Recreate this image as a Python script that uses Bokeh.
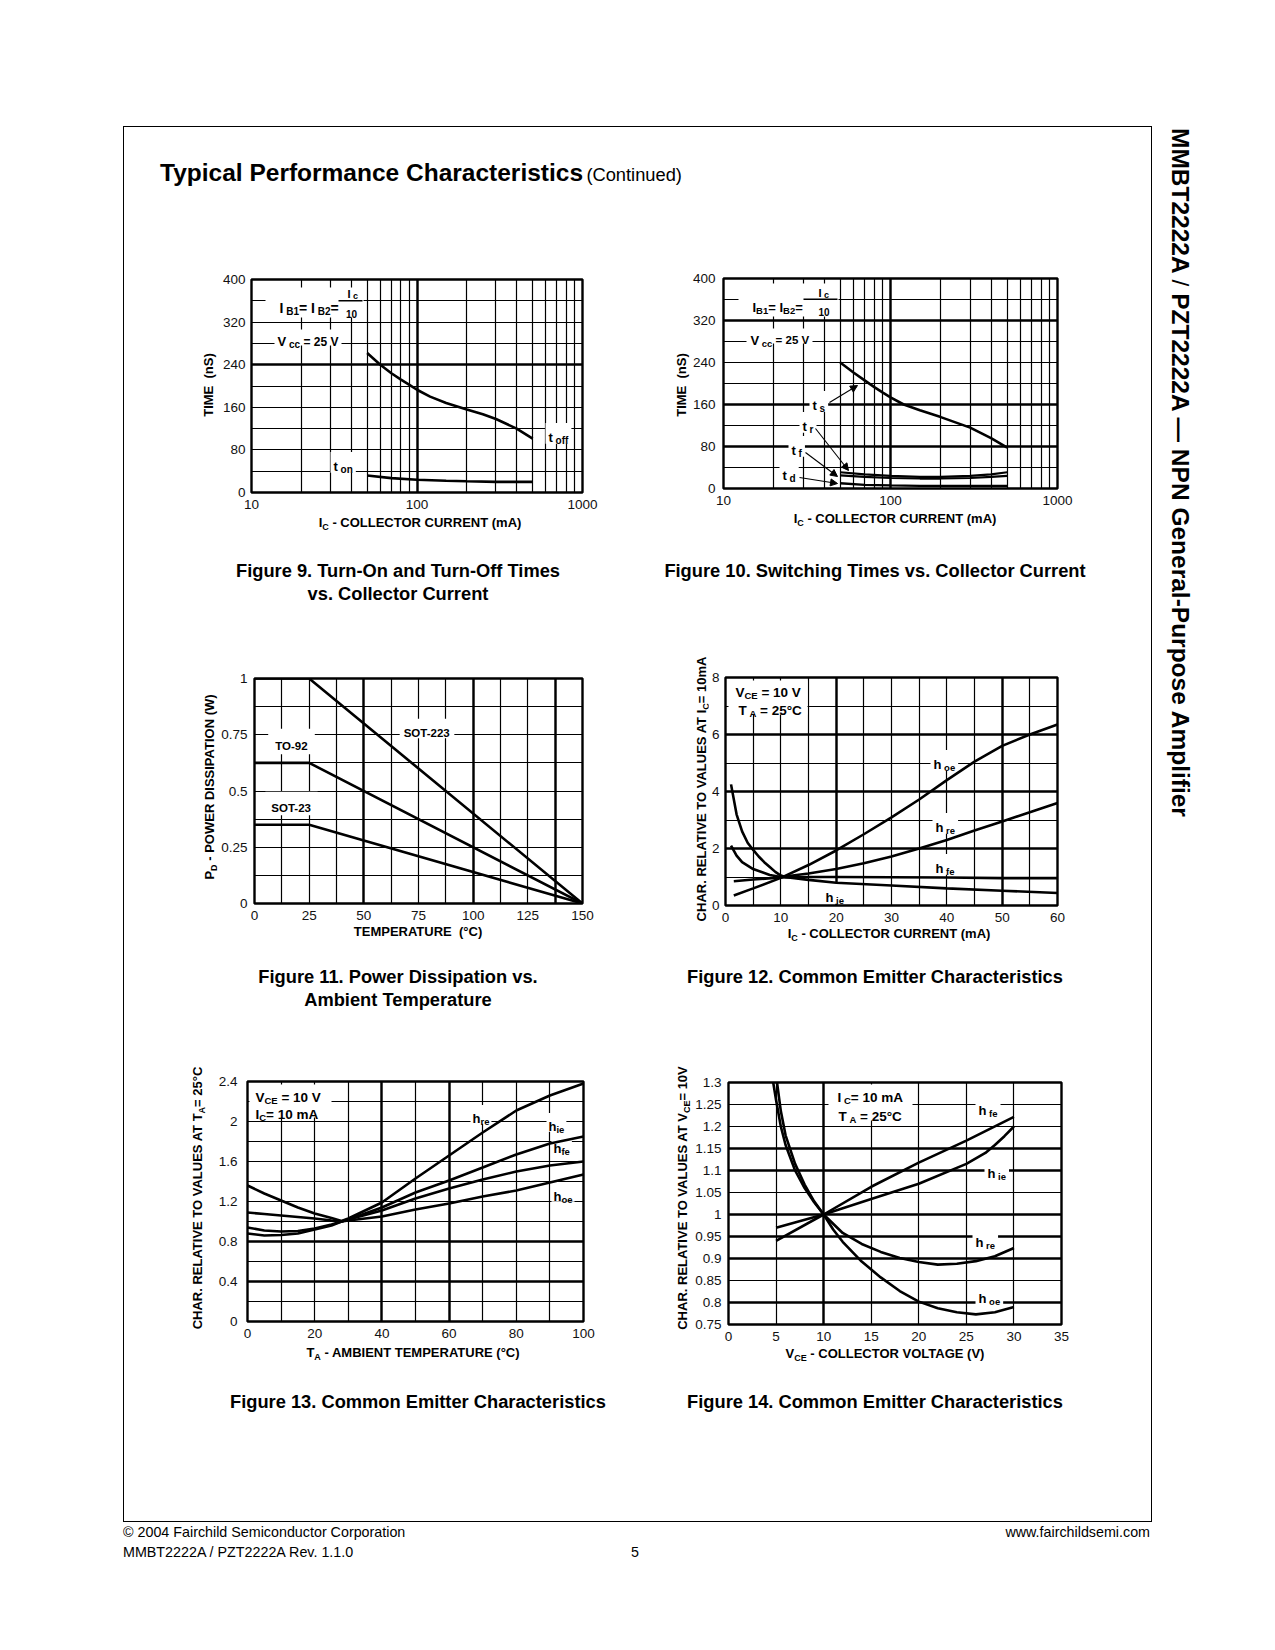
import math
from bokeh.plotting import figure
from bokeh.models import (Range1d, FixedTicker, CustomJSTickFormatter, Grid, Label,
                          BoxAnnotation, Arrow, NormalHead, Div, Spacer)
from bokeh.layouts import row, column
from bokeh.embed import file_html
from bokeh.resources import INLINE

FONT = "Liberation Sans"

# ---------------- data ----------------
# Figure 9: turn-on / turn-off times vs collector current
f9_ic_toff = [50, 60, 70, 80, 90, 100, 120, 150, 200, 250, 300, 400, 500]
f9_toff = [262, 240, 224, 212, 202, 193, 180, 168, 156, 147, 138, 120, 101]
f9_ic_ton = [50, 70, 100, 150, 200, 300, 500]
f9_ton = [32, 27, 24, 22, 21, 20, 20]

# Figure 10: switching times vs collector current
f10_ic_ts = [50, 60, 70, 80, 90, 100, 120, 150, 200, 300, 400, 500]
f10_ts = [240, 221, 206, 193, 182.5, 173.5, 160, 149, 136, 116, 96, 78]
f10_ic = [50, 70, 100, 150, 200, 300, 400, 500]
f10_tr = [31, 27, 24, 22, 22, 24, 27, 31]
f10_tf = [25, 22, 20, 19, 19, 20, 22, 24]
f10_td = [10, 7, 6, 5, 5, 5, 5, 5]

# Figure 11: power dissipation vs ambient temperature
f11_temp = [0, 25, 150]
f11_sot223 = [1.0, 1.0, 0.0]
f11_to92 = [0.625, 0.625, 0.0]
f11_sot23 = [0.35, 0.35, 0.0]

# Figure 12: common emitter characteristics vs Ic
f12_ic_hoe = [1.5, 5, 10, 15, 20, 25, 30, 35, 40, 45, 50, 55, 60]
f12_hoe = [0.35, 0.6, 0.97, 1.42, 1.93, 2.5, 3.09, 3.72, 4.4, 5.05, 5.6, 6.0, 6.35]
f12_ic_hre = [1, 2, 3, 5, 8, 10, 15, 20, 25, 30, 35, 40, 45, 50, 55, 60]
f12_hre = [2.1, 1.75, 1.52, 1.28, 1.07, 1.0, 1.12, 1.28, 1.48, 1.72, 2.0, 2.3, 2.63, 2.95, 3.27, 3.6]
f12_ic_hie = [1, 2, 3, 4, 5, 6, 7, 8, 9, 10, 11, 15, 20, 30, 40, 50, 60]
f12_hie = [4.25, 3.2, 2.6, 2.2, 1.95, 1.72, 1.52, 1.35, 1.18, 1.05, 0.99, 0.9, 0.8, 0.7, 0.6, 0.52, 0.44]
f12_ic_hfe = [1.5, 5, 10, 15, 20, 30, 40, 50, 60]
f12_hfe = [0.85, 0.91, 0.98, 1.0, 1.0, 0.99, 0.98, 0.96, 0.96]

# Figure 13: common emitter characteristics vs ambient temperature
f13_temp = [0, 5, 10, 15, 20, 25, 28, 30, 40, 50, 60, 70, 80, 90, 100]
f13_hre = [1.36, 1.28, 1.21, 1.14, 1.08, 1.035, 1.005, 1.03, 1.19, 1.43, 1.66, 1.89, 2.11, 2.26, 2.38]
f13_hie = [1.09, 1.075, 1.06, 1.045, 1.03, 1.01, 1.0, 1.02, 1.14, 1.29, 1.41, 1.54, 1.67, 1.78, 1.85]
f13_hfe = [0.94, 0.91, 0.9, 0.905, 0.93, 0.97, 1.0, 1.02, 1.11, 1.23, 1.33, 1.42, 1.5, 1.56, 1.6]
f13_hoe = [0.88, 0.86, 0.865, 0.88, 0.92, 0.96, 1.0, 1.01, 1.05, 1.12, 1.18, 1.25, 1.31, 1.39, 1.47]

# Figure 14: common emitter characteristics vs collector voltage
f14_v_hre = [4.7, 5, 5.5, 6, 7, 8, 9, 10, 12, 14, 16, 18, 20, 22, 24, 26, 28, 30]
f14_hre = [1.3, 1.26, 1.2, 1.158, 1.1, 1.06, 1.028, 1.0, 0.958, 0.933, 0.915, 0.901, 0.892, 0.886, 0.888, 0.894, 0.905, 0.924]
f14_v_hoe = [5.1, 5.5, 6, 7, 8, 9, 10, 11, 12, 14, 16, 18, 20, 22, 24, 26, 28, 30]
f14_hoe = [1.3, 1.235, 1.18, 1.115, 1.068, 1.03, 1.0, 0.966, 0.938, 0.893, 0.857, 0.826, 0.802, 0.787, 0.778, 0.773, 0.778, 0.79]
f14_v_hfe = [5, 10, 15, 20, 25, 30]
f14_hfe = [0.94, 1.0, 1.063, 1.118, 1.168, 1.222]
f14_v_hie = [5, 10, 15, 20, 25, 27, 28, 29, 30]
f14_hie = [0.97, 1.0, 1.035, 1.07, 1.115, 1.14, 1.158, 1.178, 1.2]

# ---------------- helpers ----------------
WB = {' ': 278, '(': 333, ')': 333, '-': 333, '.': 278, '/': 278, '=': 584, '°': 400,
      'A': 722, 'B': 722, 'C': 722, 'D': 722, 'E': 667, 'F': 611, 'G': 778, 'H': 722, 'I': 278,
      'L': 611, 'M': 833, 'N': 722, 'O': 778, 'P': 667, 'R': 722, 'S': 667, 'T': 611, 'U': 722,
      'V': 667, 'W': 944, 'a': 556, 'b': 611, 'c': 556, 'd': 611, 'e': 556, 'f': 333, 'h': 611,
      'i': 278, 'l': 278, 'm': 889, 'n': 611, 'o': 611, 'p': 611, 'r': 389, 's': 556, 't': 333,
      'u': 611, 'v': 556}
for _c in "0123456789":
    WB[_c] = 556


def tw(s, size):
    return sum(WB.get(c, 600) for c in s) * size / 1000.0


def to_data(sp, px, py):
    fx = (px - sp["left"]) / sp["w"]
    if sp["xlog"]:
        a, b = math.log10(sp["x0"]), math.log10(sp["x1"])
        x = 10 ** (a + fx * (b - a))
    else:
        x = sp["x0"] + fx * (sp["x1"] - sp["x0"])
    fy = (sp["top"] + sp["h"] - py) / sp["h"]
    y = sp["y0"] + fy * (sp["y1"] - sp["y0"])
    return x, y


def box(p, sp, x0, y0, x1, y1, color="white"):
    l, b = to_data(sp, x0, y1)
    r, t = to_data(sp, x1, y0)
    p.add_layout(BoxAnnotation(left=l, right=r, bottom=b, top=t, fill_color=color,
                               fill_alpha=1.0, line_color=None, level="underlay"))


def rich(p, sp, px, cy, parts, align="left", bg=False, pad=3):
    main = max(s for _, s, _ in parts)
    widths = [tw(t, s) for t, s, _ in parts]
    total = sum(widths)
    off = {"left": 0.0, "center": -total / 2.0, "right": -total}[align]
    if bg:
        maxd = max(d for _, _, d in parts)
        box(p, sp, px + off - pad, cy - 0.5 * main - pad,
            px + off + total + pad, cy + 0.5 * main + 0.6 * maxd + pad)
    cum = off
    for (t, s, d), w in zip(parts, widths):
        body = t.lstrip(" ")
        lead = tw(t[:len(t) - len(body)], s)
        x, y = to_data(sp, px + cum + lead, cy + 0.36 * main + d)
        p.add_layout(Label(x=x, y=y, text=body, text_font=FONT,
                           text_font_size=f"{s}px", text_font_style="bold",
                           text_color="black", text_align="left",
                           text_baseline="alphabetic"))
        cum += w


def arrow(p, sp, x0, y0, x1, y1):
    xs, ys = to_data(sp, x0, y0)
    xe, ye = to_data(sp, x1, y1)
    p.add_layout(Arrow(end=NormalHead(size=7, fill_color="black", line_color="black", line_width=1),
                       x_start=xs, y_start=ys, x_end=xe, y_end=ye,
                       line_color="black", line_width=1.1))


FMT = "return String(Math.round(tick*1000)/1000);"


def make_fig(sp, xticks, yticks, xgrid, ygrid, xthick, ythick, xs=1, ys=1):
    p = figure(title=None, frame_width=sp["w"], frame_height=sp["h"],
               x_range=Range1d(sp["x0"], sp["x1"]), y_range=Range1d(sp["y0"], sp["y1"]),
               x_axis_type="log" if sp["xlog"] else "linear",
               output_backend="svg", toolbar_location=None, tools="",
               min_border_left=sp["bl"], min_border_right=sp["br"],
               min_border_top=sp["bt"], min_border_bottom=sp["bb"],
               background_fill_color="white", border_fill_color="white")
    p.outline_line_color = "black"
    p.outline_line_width = 2.4
    for ax, ticks, st in ((p.xaxis[0], xticks, xs), (p.yaxis[0], yticks, ys)):
        ax.ticker = FixedTicker(ticks=ticks)
        ax.formatter = CustomJSTickFormatter(code=FMT)
        ax.major_tick_line_color = None
        ax.minor_tick_line_color = None
        ax.axis_line_color = None
        ax.axis_label = None
        ax.major_label_text_font = FONT
        ax.major_label_text_font_size = "13.5px"
        ax.major_label_text_color = "#111111"
        ax.major_label_standoff = int(st)
    p.xgrid.ticker = FixedTicker(ticks=xgrid)
    p.ygrid.ticker = FixedTicker(ticks=ygrid)
    p.grid.grid_line_color = "black"
    p.grid.grid_line_width = 1.2
    p.grid.grid_line_alpha = 1.0
    if xthick:
        p.add_layout(Grid(dimension=0, ticker=FixedTicker(ticks=xthick),
                          grid_line_color="black", grid_line_width=2.4))
    if ythick:
        p.add_layout(Grid(dimension=1, ticker=FixedTicker(ticks=ythick),
                          grid_line_color="black", grid_line_width=2.4))
    return p


def cw(sp):
    return sp["bl"] + sp["w"] + sp["br"]


LW = 2.6
LOGGRID = [m * 10 ** e for e in (1, 2) for m in range(1, 10)] + [1000]
HSUB = lambda s: [("h", 13, 0), (" " + s, 9.5, 3)]

# ---------------- Figure 9 ----------------
sp9 = dict(left=251, top=279, w=331, h=213, x0=10, x1=1000, y0=0, y1=400, xlog=True,
           bl=33, br=18, bt=24, bb=22)
p9 = make_fig(sp9, [10, 100, 1000], [0, 80, 160, 240, 320, 400], LOGGRID,
              list(range(0, 401, 40)), [100], [240], xs=1, ys=0)
p9.line(f9_ic_toff, f9_toff, line_color="black", line_width=LW)
p9.line(f9_ic_ton, f9_ton, line_color="black", line_width=LW)
box(p9, sp9, 265, 287, 363, 317)
rich(p9, sp9, 279, 302, [("I", 14, 0), (" B1", 10, 3.5), ("= I", 14, 0), (" B2", 10, 3.5), ("=", 14, 0)])
box(p9, sp9, 338, 299.6, 362, 300.9, color="black")
rich(p9, sp9, 347, 290, [("I", 11, 0), (" c", 9, 2)])
rich(p9, sp9, 351, 309.5, [("10", 10, 0)], align="center")
box(p9, sp9, 274, 329, 341, 345)
rich(p9, sp9, 277, 336.5, [("V", 13, 0), (" cc", 10, 3), (" = 25 V", 12, 0)])
rich(p9, sp9, 333, 461, [("t", 13, 0), (" on", 10, 3)], bg=True)
rich(p9, sp9, 548, 432, [("t", 13, 0), (" off", 10, 3)], bg=True)

# ---------------- Figure 10 ----------------
sp10 = dict(left=723, top=278, w=334, h=210, x0=10, x1=1000, y0=0, y1=400, xlog=True,
            bl=34, br=18, bt=23, bb=22)
p10 = make_fig(sp10, [10, 100, 1000], [0, 80, 160, 240, 320, 400], LOGGRID,
               list(range(0, 401, 40)), [100], [80, 160, 320], xs=1, ys=2)
p10.line(f10_ic_ts, f10_ts, line_color="black", line_width=LW)
p10.line(f10_ic, f10_tr, line_color="black", line_width=2.2)
p10.line(f10_ic, f10_tf, line_color="black", line_width=2.2)
p10.line(f10_ic, f10_td, line_color="black", line_width=2.4)
box(p10, sp10, 738, 283, 838, 316)
rich(p10, sp10, 752, 302, [("I", 13, 0), ("B1", 9.5, 3.5), ("= I", 13, 0), ("B2", 9.5, 3.5), ("=", 13, 0)])
box(p10, sp10, 803, 298.1, 837, 299.4, color="black")
rich(p10, sp10, 818, 288.5, [("I", 11, 0), (" c", 9, 2)])
rich(p10, sp10, 823.5, 308, [("10", 10, 0)], align="center")
box(p10, sp10, 746, 328, 812, 343)
rich(p10, sp10, 750, 335, [("V", 13, 0), (" cc", 9.5, 3), (" = 25 V", 11.5, 0)])
rich(p10, sp10, 812, 400, [("t", 13, 0), (" s", 10, 3)], bg=True)
rich(p10, sp10, 802, 421, [("t", 13, 0), (" r", 10, 3)], bg=True)
rich(p10, sp10, 791, 445, [("t", 13, 0), (" f", 10, 3)], bg=True)
rich(p10, sp10, 782, 470, [("t", 13, 0), (" d", 10, 3)], bg=True)
arrow(p10, sp10, 829, 402, 857, 385)
arrow(p10, sp10, 815, 428, 848, 470)
arrow(p10, sp10, 805, 452, 837, 476)
arrow(p10, sp10, 799, 477, 837, 483)

# ---------------- Figure 11 ----------------
sp11 = dict(left=254, top=678, w=328, h=225, x0=0, x1=150, y0=0, y1=1, xlog=False,
            bl=37, br=18, bt=38, bb=22)
p11 = make_fig(sp11, [0, 25, 50, 75, 100, 125, 150], [0, 0.25, 0.5, 0.75, 1],
               [i * 12.5 for i in range(13)], [i * 0.125 for i in range(9)],
               [50, 100, 137.5], [], xs=1, ys=1)
p11.line(f11_temp, f11_sot223, line_color="black", line_width=LW)
p11.line(f11_temp, f11_to92, line_color="black", line_width=LW)
p11.line(f11_temp, f11_sot23, line_color="black", line_width=LW)
rich(p11, sp11, 426.5, 728, [("SOT-223", 11.5, 0)], align="center", bg=True, pad=4)
rich(p11, sp11, 291, 741, [("TO-92", 11.5, 0)], align="center", bg=True, pad=7)
rich(p11, sp11, 291, 803, [("SOT-23", 11.5, 0)], align="center", bg=True, pad=6)

# ---------------- Figure 12 ----------------
sp12 = dict(left=725, top=677, w=332, h=228, x0=0, x1=60, y0=0, y1=8, xlog=False,
            bl=17, br=18, bt=37, bb=22)
p12 = make_fig(sp12, list(range(0, 61, 10)), [0, 2, 4, 6, 8], list(range(0, 61, 5)),
               list(range(0, 9)), [20, 50], [2, 4, 6], xs=1, ys=0)
p12.line(f12_ic_hoe, f12_hoe, line_color="black", line_width=LW)
p12.line(f12_ic_hre, f12_hre, line_color="black", line_width=LW)
p12.line(f12_ic_hie, f12_hie, line_color="black", line_width=LW)
p12.line(f12_ic_hfe, f12_hfe, line_color="black", line_width=LW)
box(p12, sp12, 728, 680, 807, 714)
rich(p12, sp12, 735, 687, [("V", 13.5, 0), ("CE", 9.5, 3), (" = 10 V", 13.5, 0)])
rich(p12, sp12, 738, 705, [("T", 13.5, 0), (" A", 9.5, 3), (" = 25°C", 13.5, 0)])
rich(p12, sp12, 933, 759, HSUB("oe"), bg=True)
rich(p12, sp12, 935, 822, HSUB("re"), bg=True)
rich(p12, sp12, 935, 863, HSUB("fe"), bg=True)
rich(p12, sp12, 825, 892, HSUB("ie"), bg=True)

# ---------------- Figure 13 ----------------
sp13 = dict(left=247, top=1081, w=336, h=240, x0=0, x1=100, y0=0, y1=2.4, xlog=False,
            bl=40, br=17, bt=36, bb=22)
p13 = make_fig(sp13, [0, 20, 40, 60, 80, 100], [0, 0.4, 0.8, 1.2, 1.6, 2, 2.4],
               list(range(0, 101, 10)), [round(i * 0.2, 1) for i in range(13)],
               [40, 60], [0.4, 0.8], xs=1, ys=4)
p13.line(f13_temp, f13_hre, line_color="black", line_width=LW)
p13.line(f13_temp, f13_hie, line_color="black", line_width=LW)
p13.line(f13_temp, f13_hfe, line_color="black", line_width=LW)
p13.line(f13_temp, f13_hoe, line_color="black", line_width=LW)
box(p13, sp13, 249, 1084, 331, 1117)
rich(p13, sp13, 255, 1092, [("V", 13.5, 0), ("CE", 9.5, 3), (" = 10 V", 13.5, 0)])
rich(p13, sp13, 255, 1109, [("I", 13.5, 0), ("C", 9.5, 3), ("= 10 mA", 13.5, 0)])
rich(p13, sp13, 472, 1113, [("h", 13, 0), ("re", 9.5, 3)], bg=True, pad=2)
rich(p13, sp13, 548, 1121, [("h", 13, 0), ("ie", 9.5, 3)], bg=True, pad=2)
rich(p13, sp13, 553, 1143, [("h", 13, 0), ("fe", 9.5, 3)], bg=True, pad=2)
rich(p13, sp13, 553, 1191, [("h", 13, 0), ("oe", 9.5, 3)], bg=True, pad=2)

# ---------------- Figure 14 ----------------
sp14 = dict(left=728, top=1082, w=333, h=242, x0=0, x1=35, y0=0.75, y1=1.3, xlog=False,
            bl=38, br=14, bt=37, bb=22)
p14 = make_fig(sp14, list(range(0, 36, 5)), [round(0.75 + 0.05 * i, 2) for i in range(12)],
               list(range(0, 36, 5)), [round(0.75 + 0.05 * i, 2) for i in range(12)],
               [10], [0.8, 0.9, 0.95, 1.0, 1.1, 1.15], xs=1, ys=1)
p14.line(f14_v_hre, f14_hre, line_color="black", line_width=LW)
p14.line(f14_v_hoe, f14_hoe, line_color="black", line_width=LW)
p14.line(f14_v_hfe, f14_hfe, line_color="black", line_width=LW)
p14.line(f14_v_hie, f14_hie, line_color="black", line_width=LW)
box(p14, sp14, 828, 1084, 912, 1120)
rich(p14, sp14, 837, 1092, [("I", 13.5, 0), (" C", 9.5, 3), ("= 10 mA", 13.5, 0)])
rich(p14, sp14, 838, 1111, [("T", 13.5, 0), (" A", 9.5, 3), (" = 25°C", 13.5, 0)])
rich(p14, sp14, 978, 1105, HSUB("fe"), bg=True)
rich(p14, sp14, 987, 1168, HSUB("ie"), bg=True)
rich(p14, sp14, 975, 1237, HSUB("re"), bg=True)
rich(p14, sp14, 978, 1293, HSUB("oe"), bg=True)

# ---------------- page layout ----------------
FF = "'Liberation Sans', Arial, sans-serif"
LBL = f"font-family:{FF};font-weight:bold;font-size:13px;line-height:14px;color:#000;white-space:nowrap"


def S(w=1, h=1):
    return Spacer(width=w, height=h)


def D(html, w, h):
    return Div(text=html, width=w, height=h, margin=(0, 0, 0, 0))


def sub(t, size=9):
    return f'<sub style="font-size:{size}px;vertical-align:-3px">{t}</sub>'


def ylab(html, w, h, cx, cy):
    return D(f'<div style="position:relative;width:{w}px;height:{h}px">'
             f'<span style="position:absolute;left:{cx}px;top:{cy}px;'
             f'transform:translate(-50%,-50%) rotate(-90deg);{LBL}">{html}</span></div>', w, h)


def xlab(html, w, h, cx, cy):
    return D(f'<div style="position:relative;width:{w}px;height:{h}px">'
             f'<span style="position:absolute;left:{cx}px;top:{cy}px;'
             f'transform:translate(-50%,-50%);{LBL}">{html}</span></div>', w, h)


def cap(html, w, h):
    return D(f'<div style="font-family:{FF};font-weight:bold;font-size:18.3px;'
             f'line-height:23px;text-align:center;width:{w}px;white-space:nowrap;color:#000">{html}</div>', w, h)


IC_LABEL = f"I{sub('C')} - COLLECTOR CURRENT (mA)"
TIME_LABEL = "TIME&nbsp;&nbsp;(nS)"

# row A: page y 255..540
rowA = row(S(72), ylab(TIME_LABEL, 22, 285, 13, 130),
           column(p9, xlab(IC_LABEL, cw(sp9), 26, 202, 11)),
           S(70), ylab(TIME_LABEL, 19, 285, 12, 130),
           column(p10, xlab(IC_LABEL, cw(sp10), 30, 206, 11)))

# row B: page y 640..950
rowB = row(S(75), ylab(f"P{sub('D')} - POWER DISSIPATION (W)", 18, 310, 13, 147),
           column(p11, xlab("TEMPERATURE&nbsp;&nbsp;(°C)", cw(sp11), 25, 201, 7)),
           S(90), ylab(f"CHAR. RELATIVE TO VALUES AT I{sub('C')}= 10mA", 18, 310, 13.5, 149),
           column(p12, xlab(IC_LABEL, cw(sp12), 23, 181, 9)))

# row C: page y 1045..1370
rowC = row(S(63), ylab(f"CHAR. RELATIVE TO VALUES AT T{sub('A')}= 25°C", 20, 325, 13, 153),
           column(p13, xlab(f"T{sub('A')} - AMBIENT TEMPERATURE (°C)", cw(sp13), 27, 206, 12)),
           S(72), ylab(f"CHAR. RELATIVE TO VALUES AT V{sub('CE')}= 10V", 18, 325, 13, 153),
           column(p14, xlab(f"V{sub('CE')} - COLLECTOR VOLTAGE (V)", cw(sp14), 24, 195, 10)))

title = D(f'<div style="white-space:nowrap;line-height:34px;color:#000;font-family:{FF}">'
          f'<span style="font-weight:bold;font-size:24.5px">Typical Performance Characteristics</span> '
          f'<span style="font-size:18.3px">(Continued)</span></div>', 640, 34)

capA = row(S(106), cap("Figure 9. Turn-On and Turn-Off Times<br>vs. Collector Current", 336, 48),
           S(89), cap("Figure 10. Switching Times vs. Collector Current", 440, 48))
capB = row(S(106), cap("Figure 11. Power Dissipation vs.<br>Ambient Temperature", 336, 48),
           S(89), cap("Figure 12. Common Emitter Characteristics", 440, 48))
capC = row(S(106), cap("Figure 13. Common Emitter Characteristics", 336, 24),
           S(89), cap("Figure 14. Common Emitter Characteristics", 440, 24))

box_col = column(
    S(1027, 29),
    row(S(36), title),
    S(1, 65),
    rowA,
    S(1, 19), capA, S(1, 33),
    rowB,
    S(1, 15), capB, S(1, 32),
    rowC,
    S(1, 20), capC, S(1, 107),
    styles={"border": "1px solid #000"},
)

vtitle = D(f'<div style="writing-mode:vertical-rl;font-family:{FF};font-weight:bold;'
           f'font-size:24.5px;line-height:30px;white-space:nowrap;width:32px;height:720px;color:#000;padding-top:2px">'
           f'MMBT2222A <span style="font-weight:normal">/</span> PZT2222A — NPN General-Purpose Amplifier</div>',
           32, 720)

footer = D(f'<div style="position:relative;width:1027px;height:42px;font-family:{FF};font-size:14.3px;color:#000">'
           f'<span style="position:absolute;left:0;top:0;line-height:20px">© 2004 Fairchild Semiconductor Corporation</span>'
           f'<span style="position:absolute;left:0;top:20px;line-height:20px">MMBT2222A / PZT2222A Rev. 1.1.0</span>'
           f'<span style="position:absolute;left:508px;top:20px;line-height:20px">5</span>'
           f'<span style="position:absolute;right:0;top:0;line-height:20px">www.fairchildsemi.com</span></div>',
           1027, 42)

page = column(
    S(1, 126),
    row(S(123), box_col, S(11), vtitle),
    row(S(123), footer),
)

open("out.html", "w").write(file_html(page, INLINE))
